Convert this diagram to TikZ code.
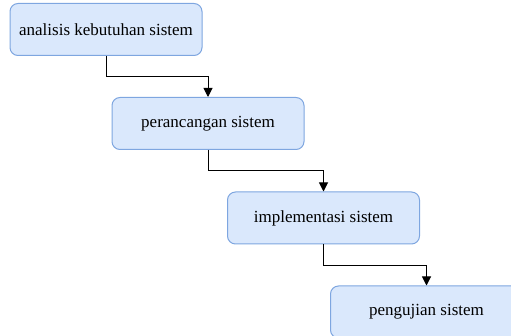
\documentclass[tikz,border=0pt]{standalone}
\usepackage{fontspec}
\setmainfont{Liberation Serif}
\usetikzlibrary{arrows.meta}
\definecolor{boxfill}{HTML}{DAE8FC}
\definecolor{boxline}{HTML}{7EA6E0}
\begin{document}
\begin{tikzpicture}[x=1pt,y=-1pt,
  box/.style={draw=boxline,fill=boxfill,line width=1pt,rounded corners=8pt,
    minimum width=192pt,minimum height=52pt,inner sep=0pt,
    font=\fontsize{17}{20}\selectfont},
  flow/.style={line width=1pt,-{Triangle[length=9pt,width=9pt]}}]
  \useasboundingbox (0,0) rectangle (511,336);
  \clip (0,0) rectangle (511,336);
  \node [box] (analisis) at (106,29.5) {analisis kebutuhan sistem};
  \node [box] (rancang) at (208,123.5) {perancangan sistem};
  \node [box] (implement) at (323.5,218) {implementasi sistem};
  \node [box] (uji) at (426.5,312) {pengujian sistem};
  \draw [flow] (analisis.south) -- ++(0,21) -| (rancang.north);
  \draw [flow] (rancang.south) -- ++(0,21) -| (implement.north);
  \draw [flow] (implement.south) -- ++(0,21) -| (uji.north);
\end{tikzpicture}
\end{document}
